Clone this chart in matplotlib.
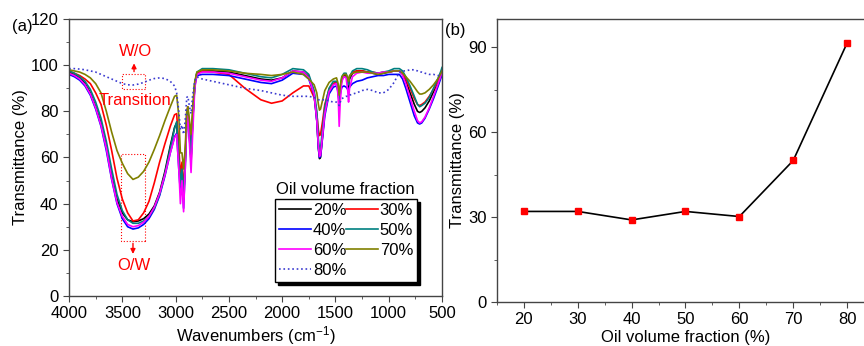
import matplotlib
matplotlib.use('Agg')
import matplotlib.pyplot as plt
import matplotlib.patches as mpatches
from matplotlib.ticker import MultipleLocator
import numpy as np

plt.rcParams['font.family'] = ['Liberation Sans', 'DejaVu Sans']
plt.rcParams['mathtext.fontset'] = 'custom'
plt.rcParams['mathtext.rm'] = 'Liberation Sans'
plt.rcParams['mathtext.it'] = 'Liberation Sans:italic'
plt.rcParams['font.size'] = 12

# ---- panel (a): FTIR spectra ----
wavenumber = [4000, 3950, 3900, 3850, 3800, 3750, 3700, 3650, 3600, 3550, 3500, 3450, 3400, 3350,
              3300, 3250, 3200, 3150, 3100, 3050, 3010, 2990, 2970, 2955, 2940, 2925, 2910, 2895,
              2885, 2870, 2855, 2840, 2820, 2800, 2750, 2650, 2500, 2350, 2200, 2100, 2000, 1900,
              1800, 1750, 1700, 1675, 1660, 1650, 1640, 1620, 1600, 1560, 1520, 1490, 1475, 1465,
              1455, 1440, 1420, 1400, 1385, 1377, 1368, 1340, 1300, 1250, 1200, 1150, 1100, 1050,
              1000, 950, 900, 870, 840, 800, 760, 730, 710, 690, 660, 620, 580, 540, 510, 500]

t20 = [97, 96, 94.5, 92, 88, 82, 75, 65, 52, 42, 36, 33, 32.2, 32.5,
       33.5, 35.5, 39, 45, 54, 65, 73, 75, 60, 48, 55, 42, 58, 78,
       80, 70, 58, 75, 92, 96.5, 97.5, 97.5, 97, 95.5, 94, 93.5, 94.5, 97.5,
       97, 95, 88, 76, 64, 59.5, 60, 70, 80, 89, 92, 92.5, 90, 83,
       89, 94, 95.5, 95.5, 93, 90, 94, 96.5, 97.5, 97.5, 97, 96.5, 96, 96.5,
       97, 97.5, 97.5, 96, 93, 88, 83, 80, 79.5, 80, 81.5, 84.5, 88.5, 92.5, 96, 98]
t30 = [97.5, 96.5, 95.5, 94, 92, 88, 83, 74, 63, 51, 42, 36, 32.5, 33,
       36, 41, 49, 58, 66, 73.5, 78.5, 79, 65, 52, 58, 45, 60, 80,
       82, 73, 62, 78, 92, 96.5, 97.5, 97, 96, 90, 85, 83.5, 84.5, 88,
       91, 91, 86, 79, 72, 69.5, 70, 76, 83, 89.5, 92, 92.5, 90, 84,
       89, 94, 96, 96, 94, 92, 95, 97, 97.5, 97.5, 97, 97, 96.5, 97,
       97, 97.5, 97.5, 96.5, 94, 90, 85.5, 83, 82.5, 83, 84, 86.5, 89.5, 93, 96, 97.5]
t40 = [96, 95, 93.5, 91, 87, 81, 73.5, 63, 50.5, 40, 33.5, 30, 29, 29.5,
       31, 33.5, 37.5, 43.5, 52, 62, 69, 70.5, 55, 45, 52, 38, 55, 76,
       80, 68, 60, 76, 91, 95.5, 96, 96, 95.5, 94, 92.5, 92, 93.5, 96.5,
       96, 94, 87, 76, 64, 60, 60.5, 69, 78, 87.5, 90.5, 91, 88.5, 83,
       87.5, 90.5, 91, 90.5, 89.5, 89, 90.5, 92, 93, 93.5, 94.5, 95, 95.5, 95.5,
       96, 96, 96, 94, 90, 84, 78, 75, 74.5, 75, 77, 81, 85.5, 90.5, 94.5, 96]
t50 = [97.5, 96.5, 95, 93, 89.5, 84, 77, 67, 55, 44, 37, 33, 31.5, 31.5,
       32.5, 34.5, 38, 44, 53, 64, 72.5, 75.5, 60, 48, 55, 42, 58, 78,
       81, 72, 60, 76, 92, 97, 98.5, 98.5, 98, 96.5, 95, 94.5, 96, 98.5,
       98, 96, 89, 80, 68, 63.5, 64, 73, 82, 90, 93, 93, 91, 85,
       90, 95, 96.5, 96.5, 94, 91.5, 95, 97.5, 98.5, 98.5, 98, 97, 96.5, 97,
       97.5, 98.5, 98.5, 97.5, 95, 91, 86.5, 83, 82, 82.5, 83.5, 86, 90, 94, 97.5, 99]
t60 = [96.5, 95.5, 94, 91.5, 87.5, 81.5, 74, 64, 51, 40.5, 34.5, 31, 30, 30.5,
       32, 34.5, 38.5, 44.5, 52.5, 62, 68.5, 70, 55, 40, 50, 36.5, 55, 76,
       78, 66, 53.5, 70, 90, 96, 97, 97, 96.5, 95, 93.5, 93, 94.5, 97.5,
       97, 94.5, 87.5, 76, 65, 60.5, 61, 70, 79, 88.5, 91.5, 92, 87, 73.5,
       84, 93, 95, 94.5, 89, 84, 90, 95, 96.5, 97, 96.5, 96.5, 96.5, 97,
       97, 97.5, 97.5, 95.5, 92, 86, 80, 76, 75, 75.5, 77.5, 81.5, 86.5, 91.5, 95.5, 97]
t70 = [98, 97.5, 97, 96, 94.5, 92, 88, 80, 71, 63, 57.5, 53, 50.5, 51.5,
       54, 58, 63.5, 69.5, 76, 82, 86.5, 87, 78, 62, 62, 55, 64, 80,
       82, 76, 70, 82, 93, 97, 98, 98, 97.5, 96.5, 96, 95.5, 96, 97,
       96, 94, 91.5, 88, 83, 80.5, 81, 85, 89, 92.5, 94, 94.5, 92, 87,
       91, 95, 96, 96, 94.5, 93, 95.5, 96.5, 97, 97, 97, 96.5, 96, 96.5,
       97, 97.5, 97.5, 96.5, 95, 93, 90.5, 88.5, 87.5, 87.5, 88, 89.5, 91.5, 94, 96.5, 97.5]
t80 = [98.5, 98.5, 98.3, 98, 97.5, 97, 96, 95, 94, 93, 92, 91.5, 91.4, 91.8,
       92.5, 93.5, 94.2, 94.5, 94.2, 93, 91, 88, 80, 72, 74, 70, 76, 86,
       86.5, 82, 79, 87, 93, 95, 94, 93, 91.5, 90, 89, 88, 87, 86.5,
       86.5, 86.5, 86, 85.5, 85, 85, 85, 85, 85, 84.5, 84, 84, 83.5, 82.5,
       84, 85.5, 86, 86.5, 86.5, 86.5, 87, 87.5, 88, 89, 89.5, 89, 88, 88,
       89.5, 92.5, 97, 97.5, 97.5, 98, 98, 97.5, 97, 97, 96.5, 96, 96, 95.5, 95.5, 95.5]

series_labels = ['20%', '30%', '40%', '50%', '60%', '70%', '80%']
series_colors = ['#000000', '#ff0000', '#0000ff', '#008080', '#ff00ff', '#808000', '#3a3ad0']
series_styles = ['-', '-', '-', '-', '-', '-', ':']

# ---- panel (b): transmittance at ~3400 cm-1 ----
oil_fraction = [20, 30, 40, 50, 60, 70, 80]
transmittance = [32, 32, 29, 32, 30.2, 50, 91.5]

fig = plt.figure(figsize=(8.64, 3.46), dpi=100)
ax1 = fig.add_axes([0.0799, 0.1445, 0.4317, 0.8006])
ax2 = fig.add_axes([0.5752, 0.1272, 0.4364, 0.8179])

spine_col = '#444444'
for ax in (ax1, ax2):
    for s in ax.spines.values():
        s.set_color(spine_col)
        s.set_linewidth(1.0)
    ax.tick_params(which='both', direction='out', top=False, right=False, color=spine_col)
    ax.tick_params(which='major', length=4, labelsize=12)
    ax.tick_params(which='minor', length=2.5)

lines = []
for vals, lab, col, ls in zip([t20, t30, t40, t50, t60, t70, t80], series_labels, series_colors, series_styles):
    ln, = ax1.plot(wavenumber, vals, color=col, linestyle=ls, linewidth=1.2, label=lab)
    lines.append(ln)

ax1.set_xlim(4000, 500)
ax1.set_ylim(0, 120)
ax1.xaxis.set_major_locator(MultipleLocator(500))
ax1.xaxis.set_minor_locator(MultipleLocator(250))
ax1.yaxis.set_major_locator(MultipleLocator(20))
ax1.yaxis.set_minor_locator(MultipleLocator(10))
ax1.set_xlabel('Wavenumbers (cm$^{-1}$)', fontsize=12, labelpad=2)
ax1.set_ylabel('Transmittance (%)', fontsize=12, labelpad=2)

# annotations for the phase inversion
red = '#ff0000'
ax1.add_patch(mpatches.Rectangle((3290, 89.5), 210, 6.5, fill=False, edgecolor=red,
                                 linestyle=':', linewidth=0.8))
ax1.add_patch(mpatches.Rectangle((3290, 24), 225, 37.4, fill=False, edgecolor=red,
                                 linestyle=':', linewidth=0.8))
ax1.annotate('', xy=(3390, 102), xytext=(3390, 96),
             arrowprops=dict(arrowstyle='-|>', color=red, lw=1, mutation_scale=7))
ax1.annotate('', xy=(3400, 17), xytext=(3400, 24),
             arrowprops=dict(arrowstyle='-|>', color=red, lw=1, mutation_scale=7))
ax1.text(3380, 106, 'W/O', color=red, ha='center', va='center', fontsize=12)
ax1.text(3380, 84.5, 'Transition', color=red, ha='center', va='center', fontsize=12)
ax1.text(3390, 13, 'O/W', color=red, ha='center', va='center', fontsize=12)

order = [0, 2, 4, 6, 1, 3, 5]
leg = ax1.legend([lines[i] for i in order], [series_labels[i] for i in order], ncol=2,
                 loc='upper left', bbox_to_anchor=(0.553, 0.35), fontsize=12,
                 frameon=True, fancybox=False, edgecolor='black', framealpha=1,
                 shadow={'facecolor': 'black', 'edgecolor': 'black', 'alpha': 1},
                 handlelength=1.9, handletextpad=0.1, columnspacing=0.0,
                 labelspacing=0.3, borderpad=0.25, borderaxespad=0)
leg.get_frame().set_linewidth(1.0)
ax1.text(0.555, 0.385, 'Oil volume fraction', transform=ax1.transAxes,
         ha='left', va='center', fontsize=12)

ax2.plot(oil_fraction, transmittance, color='black', linewidth=1.2,
         marker='s', markersize=4.5, markerfacecolor=red, markeredgecolor=red)
ax2.set_xlim(15, 85)
ax2.set_ylim(0, 100)
ax2.xaxis.set_major_locator(MultipleLocator(10))
ax2.xaxis.set_minor_locator(MultipleLocator(5))
ax2.yaxis.set_major_locator(MultipleLocator(30))
ax2.yaxis.set_minor_locator(MultipleLocator(15))
ax2.set_xlabel('Oil volume fraction (%)', fontsize=12, labelpad=2)
ax2.set_ylabel('Transmittance (%)', fontsize=12, labelpad=2)

fig.text(12 / 864, 1 - 27 / 346, '(a)', fontsize=12, va='center', ha='left')
fig.text(445 / 864, 1 - 31 / 346, '(b)', fontsize=12, va='center', ha='left')

fig.savefig('out.png', dpi=100)
